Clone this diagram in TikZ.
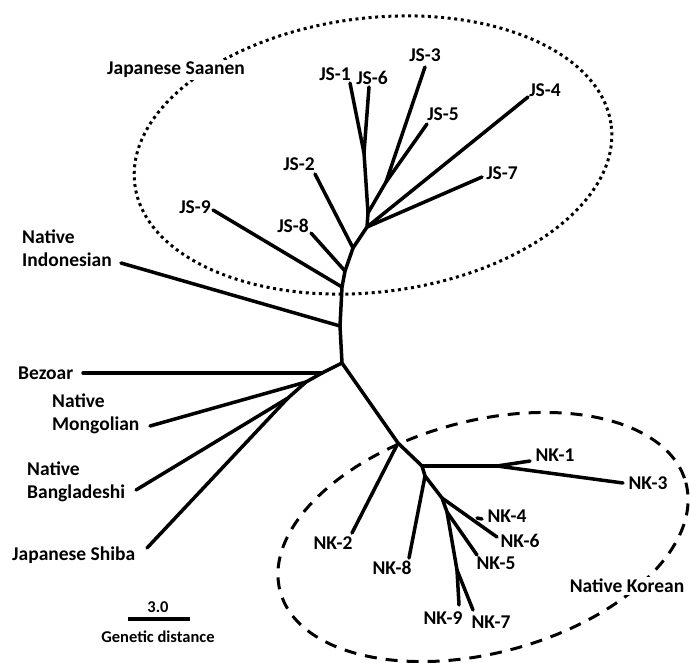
\documentclass[tikz,border=0pt]{standalone}
\usepackage{fontspec}
\setmainfont{Carlito}
\begin{document}
\begin{tikzpicture}[x=1pt,y=-1pt,
  br/.style={line width=3.5pt, line cap=round, line join=round},
  lbl/.style={font=\bfseries\fontsize{19.5}{23}\selectfont, inner sep=0pt, align=left},
  small/.style={font=\bfseries\fontsize{16.5}{18}\selectfont, inner sep=0pt},
  dotring/.style={line width=3pt, dash pattern=on 3pt off 3.6pt},
  dashring/.style={line width=3pt, dash pattern=on 12pt off 9pt}]
\useasboundingbox (0,0) rectangle (690,662);
% ellipses
\draw[dotring, rotate around={7:(373,155)}] (373,155) ellipse [x radius=240, y radius=137];
\draw[dashring, rotate around={15:(483,537)}] (483,537) ellipse [x radius=210, y radius=116];
% tree coordinates
\coordinate (R) at (342,363);
\coordinate (H) at (340,326);
\coordinate (G) at (342,287);
\coordinate (F) at (345,271);
\coordinate (E) at (353,248);
\coordinate (D) at (367,227);
\coordinate (B) at (368,213);
\coordinate (C) at (386,182);
\coordinate (A) at (364,153);
\coordinate (js1) at (350,83);
\coordinate (js6) at (369,87);
\coordinate (js3) at (425,67);
\coordinate (js5) at (427,124);
\coordinate (js4) at (528,97);
\coordinate (js7) at (482,177);
\coordinate (js2) at (315,174);
\coordinate (js8) at (311,233);
\coordinate (js9) at (213,210);
\coordinate (ind) at (121,263);
\coordinate (I) at (322,373);
\coordinate (bez) at (83,373);
\coordinate (Jm) at (306,382);
\coordinate (mon) at (150,426);
\coordinate (Jb) at (288,398);
\coordinate (ban) at (136,490);
\coordinate (shi) at (147,548);
\coordinate (K) at (398,443);
\coordinate (nk2) at (352,533);
\coordinate (L) at (422,466);
\coordinate (Q) at (497,466);
\coordinate (nk1) at (530,461);
\coordinate (nk3) at (623,483);
\coordinate (M) at (425,476);
\coordinate (nk8) at (409,558);
\coordinate (N) at (442,498);
\coordinate (nk6) at (497,537);
\coordinate (S) at (477,518);
\coordinate (nk4) at (482,519);
\coordinate (O) at (447,512);
\coordinate (nk5) at (477,555);
\coordinate (P) at (457,570);
\coordinate (nk9) at (459,605);
\coordinate (nk7) at (473,610);
% branches
\draw[br] (R) -- (H) -- (G) -- (F) -- (E) -- (D) -- (B) -- (A);
\draw[br] (A) -- (js1); \draw[br] (A) -- (js6);
\draw[br] (B) -- (C); \draw[br] (C) -- (js3); \draw[br] (C) -- (js5);
\draw[br] (D) -- (js4); \draw[br] (D) -- (js7);
\draw[br] (E) -- (js2); \draw[br] (F) -- (js8); \draw[br] (G) -- (js9);
\draw[br] (H) -- (ind);
\draw[br] (R) -- (I) -- (Jm) -- (Jb);
\draw[br] (I) -- (bez); \draw[br] (Jm) -- (mon);
\draw[br] (Jb) -- (ban); \draw[br] (Jb) -- (shi);
\draw[br] (R) -- (K) -- (L) -- (M) -- (N) -- (O) -- (P);
\draw[br] (K) -- (nk2);
\draw[br] (L) -- (Q); \draw[br] (Q) -- (nk1); \draw[br] (Q) -- (nk3);
\draw[br] (M) -- (nk8);
\draw[br] (N) -- (nk6); \draw[br] (S) -- (nk4);
\draw[br] (O) -- (nk5);
\draw[br] (P) -- (nk9); \draw[br] (P) -- (nk7);
% labels
\node[lbl, fill=white, inner sep=2pt] (tJSa) at (176,70) {Japanese Saanen};
\node[lbl] (tJS1) at (335,74) {JS-1};
\node[lbl] (tJS6) at (372,78) {JS-6};
\node[lbl] (tJS3) at (425,55) {JS-3};
\node[lbl] (tJS5) at (443,114) {JS-5};
\node[lbl] (tJS4) at (545,90) {JS-4};
\node[lbl] (tJS7) at (502,173) {JS-7};
\node[lbl] (tJS2) at (299,164) {JS-2};
\node[lbl] (tJS9) at (195,207) {JS-9};
\node[lbl] (tJS8) at (293,226) {JS-8};
\node[lbl, anchor=west] (tInd) at (22,248) {Native\\Indonesian};
\node[lbl, anchor=west] (tBez) at (18,373) {Bezoar};
\node[lbl, anchor=west] (tMon) at (52,414) {Native\\Mongolian};
\node[lbl, anchor=west] (tBan) at (27,482) {Native\\Bangladeshi};
\node[lbl, anchor=west] (tShi) at (12,555) {Japanese Shiba};
\node[lbl] (tNK1) at (555,455) {NK-1};
\node[lbl] (tNK3) at (648,483) {NK-3};
\node[lbl] (tNK4) at (507,516) {NK-4};
\node[lbl] (tNK6) at (520,541) {NK-6};
\node[lbl] (tNK5) at (496,563) {NK-5};
\node[lbl] (tNK2) at (333,543) {NK-2};
\node[lbl] (tNK8) at (392,568) {NK-8};
\node[lbl] (tNK9) at (443,618) {NK-9};
\node[lbl] (tNK7) at (491,622) {NK-7};
\node[lbl, fill=white, inner sep=2pt] (tKor) at (627,586) {Native Korean};
% scale bar
\node[small] (tsc) at (158,607) {3.0};
\coordinate (sa) at (128,619);
\coordinate (sb) at (190,619);
\draw[line width=3.5pt] (sa) -- (sb);
\node[small] (tgd) at (158,637) {Genetic distance};
\end{tikzpicture}
\end{document}
